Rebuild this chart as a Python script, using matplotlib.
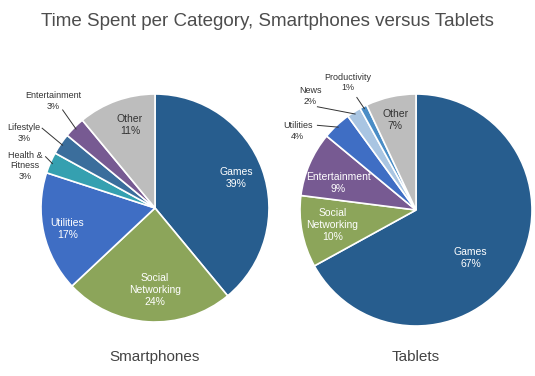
import matplotlib.pyplot as plt
import numpy as np

plt.rcParams['font.family'] = ['Liberation Sans', 'DejaVu Sans']

# data
phone_cats = ['Games', 'Social\nNetworking', 'Utilities', 'Health &\nFitness',
              'Lifestyle', 'Entertainment', 'Other']
phone_vals = [39, 24, 17, 3, 3, 3, 11]
phone_colors = ['#275d8e', '#8ca55a', '#3f6ec4', '#35a0b0', '#3b6e9c', '#775a92', '#bdbdbd']

tab_cats = ['Games', 'Social\nNetworking', 'Entertainment', 'Utilities',
            'News', 'Productivity', 'Other']
tab_vals = [67, 10, 9, 4, 2, 1, 7]
tab_colors = ['#275d8e', '#8ca55a', '#775a92', '#3f6ec4', '#a9c5e2', '#4a8dc6', '#bdbdbd']

# label placement (text pos, text colour, leader line start or None)
phone_lbl = [((0.71, 0.26), 'white', None),
             ((0.0, -0.72), 'white', None),
             ((-0.77, -0.18), 'white', None),
             ((-1.14, 0.37), '#333333', (-0.96, 0.45)),
             ((-1.15, 0.66), '#333333', (-0.99, 0.70)),
             ((-0.89, 0.94), '#333333', (-0.81, 0.86)),
             ((-0.22, 0.73), '#333333', None)]
tab_lbl = [((0.47, -0.41), 'white', None),
           ((-0.72, -0.13), 'white', None),
           ((-0.67, 0.23), 'white', None),
           ((-1.02, 0.68), '#333333', (-0.85, 0.73)),
           ((-0.91, 0.98), '#333333', (-0.85, 0.89)),
           ((-0.59, 1.10), '#333333', (-0.51, 0.97)),
           ((-0.18, 0.78), '#333333', None)]

W, H = 535, 376
fig = plt.figure(figsize=(W / 100, H / 100), dpi=100)
fig.patch.set_facecolor('white')


def draw(cx, cy, r, cats, vals, colors, lbls, name):
    ax = fig.add_axes([(cx - r) / W, (H - cy - r) / H, 2 * r / W, 2 * r / H])
    wedges, _ = ax.pie(vals, colors=colors, startangle=90, counterclock=False,
                       wedgeprops=dict(edgecolor='white', linewidth=1.2))
    ax.set_xlim(-1, 1)
    ax.set_ylim(-1, 1)
    ax.set_aspect('equal')
    ax.axis('off')
    for w, c, v, (pos, col, ls) in zip(wedges, cats, vals, lbls):
        small = ls is not None
        ax.text(pos[0], pos[1], f'{c}\n{v}%', ha='center', va='center',
                color=col, fontsize=6.5 if small else 7.5, linespacing=1.25,
                clip_on=False)
        if small:
            mid = np.deg2rad((w.theta1 + w.theta2) / 2)
            ax.plot([ls[0], 0.98 * np.cos(mid)], [ls[1], 0.98 * np.sin(mid)],
                    color='#333333', lw=0.7, clip_on=False)
    fig.text(cx / W, 1 - 357 / H, name, ha='center', va='center',
             fontsize=11, color='#444444')


draw(155, 208, 114, phone_cats, phone_vals, phone_colors, phone_lbl, 'Smartphones')
draw(416, 210, 116, tab_cats, tab_vals, tab_colors, tab_lbl, 'Tablets')

fig.text(0.5, 1 - 22 / H, 'Time Spent per Category, Smartphones versus Tablets',
         ha='center', va='center', fontsize=13.5, color='#4d4d4d')

fig.savefig('out.png', dpi=100)
